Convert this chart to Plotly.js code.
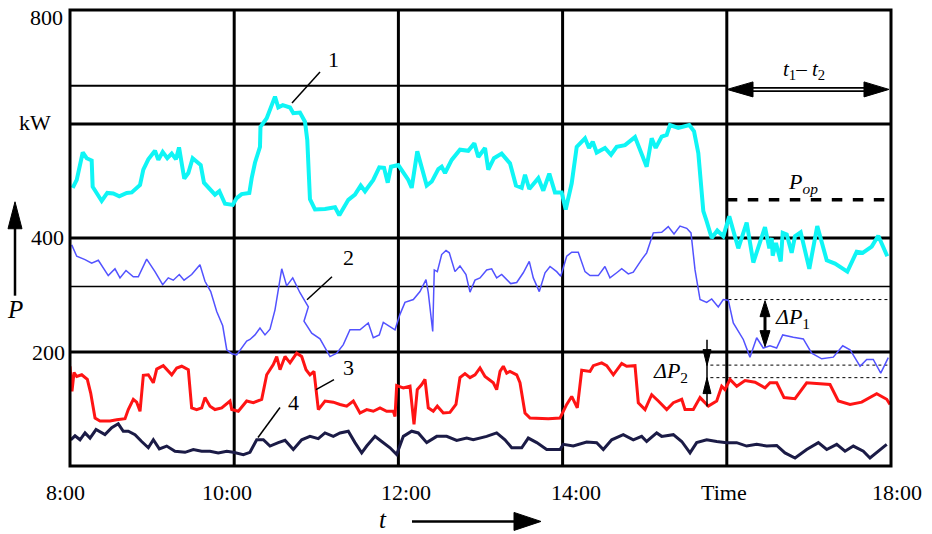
<!DOCTYPE html>
<html>
<head>
<meta charset="utf-8">
<script src="https://cdn.plot.ly/plotly-3.0.1.min.js"></script>
<style>html,body{margin:0;padding:0;background:#fff;}#chart{width:932px;height:534px;}</style>
</head>
<body>
<div id="chart"></div>
<script>
// ---- data (time in hours, power in kW) ----
const time1 = [8.033,8.082,8.155,8.203,8.264,8.276,8.386,8.454,8.527,8.600,
8.691,8.752,8.853,8.893,8.954,9.035,9.076,9.129,9.185,9.239,
9.291,9.328,9.392,9.441,9.494,9.592,9.632,9.766,9.819,9.888,
9.982,10.030,10.091,10.184,10.213,10.253,10.314,10.32,10.396,10.448,
10.497,10.537,10.591,10.680,10.720,10.801,10.862,10.890,10.923,10.984,
11.106,11.228,11.280,11.390,11.471,11.541,11.593,11.694,11.767,11.825,
11.870,11.910,11.999,12.121,12.162,12.230,12.345,12.406,12.486,12.527,
12.568,12.649,12.750,12.851,12.925,12.973,13.055,13.095,13.164,13.258,
13.359,13.432,13.502,13.542,13.594,13.704,13.765,13.838,13.907,13.989,
14.038,14.111,14.172,14.273,14.322,14.367,14.415,14.516,14.590,14.659,
14.760,14.882,15.024,15.085,15.134,15.207,15.268,15.308,15.409,15.543,
15.601,15.653,15.694,15.714,15.755,15.816,15.884,15.957,
16.030,16.140,16.242,16.323,16.465,16.518,16.547,16.559,16.599,16.657,
16.681,16.730,16.790,16.831,16.900,17.005,17.102,17.217,17.318,17.468,
17.582,17.655,17.765,17.845,17.955];
const power1 = [488,502,550,540,536,490,465,479,478,473,
479,480,493,520,538,553,537,551,540,548,
538,559,504,514,540,528,497,476,482,460,
458,470,477,479,505,532,560,595,610,628,
648,629,633,629,619,620,604,572,468,450,
451,454,440,467,476,492,482,502,524,523,
497,525,528,502,488,552,492,499,521,525,
514,537,555,553,566,542,558,520,540,548,
531,492,488,511,486,505,483,513,480,480,
450,496,560,575,558,569,550,558,546,560,
563,577,525,575,558,578,581,598,593,598,
587,549,485,447,429,400,413,403,
438,382,427,357,419,382,400,369,391,359,
409,406,374,403,410,346,421,361,355,341,
376,374,385,404,368];

const time2 = [8.021,8.082,8.183,8.264,8.345,8.466,8.548,8.609,8.682,8.771,
8.832,8.934,9.035,9.129,9.197,9.258,9.331,9.389,9.482,9.583,
9.644,9.714,9.787,9.860,9.909,9.970,10.030,10.152,10.192,10.253,
10.314,10.375,10.436,10.497,10.579,10.639,10.713,10.801,10.903,10.850,
10.944,11.045,11.167,11.249,11.329,11.410,11.532,11.633,11.694,11.767,
11.816,11.877,11.959,12.019,12.080,12.182,12.263,12.336,12.364,12.418,
12.437,12.474,12.527,12.580,12.620,12.689,12.750,12.823,12.872,12.933,
12.994,13.075,13.136,13.197,13.258,13.368,13.441,13.521,13.594,13.643,
13.716,13.786,13.847,13.928,13.977,14.050,14.111,14.191,14.273,14.334,
14.435,14.516,14.577,14.659,14.720,14.800,14.861,14.963,15.024,15.105,
15.207,15.287,15.357,15.430,15.512,15.564,15.613,15.674,15.755,15.816,
15.896,15.957,16.018,16.079,16.201,16.282,16.364,16.444,16.526,16.607,
16.681,16.810,16.932,17.034,17.156,17.297,17.412,17.501,17.623,17.704,
17.784,17.875,17.967];
const power2 = [388,368,362,356,361,334,346,330,343,332,
332,363,341,318,330,326,336,326,336,353,
324,306,271,246,204,197,195,219,222,230,
242,230,240,274,346,316,330,304,279,254,
233,223,192,198,213,239,239,251,225,230,
252,246,239,266,287,292,306,327,304,236,
344,341,371,378,374,341,351,336,305,326,
330,344,346,330,336,320,322,339,359,330,
306,339,350,341,333,368,375,375,341,334,
334,350,330,339,346,337,340,362,374,409,
410,420,407,421,417,409,344,292,287,293,
279,292,291,251,222,191,225,207,211,207,
230,226,223,198,188,191,211,204,175,187,
187,163,190];

const time3 = [8.000,8.024,8.049,8.082,8.143,8.211,8.252,8.305,8.365,8.487,
8.569,8.670,8.710,8.771,8.812,8.853,8.893,8.954,9.015,9.056,
9.136,9.239,9.300,9.361,9.441,9.482,9.543,9.604,9.644,9.705,
9.766,9.848,9.949,9.970,10.050,10.152,10.233,10.335,10.396,10.476,
10.518,10.558,10.619,10.680,10.761,10.822,10.875,10.923,10.972,11.025,
11.106,11.207,11.289,11.370,11.451,11.532,11.614,11.694,11.776,11.857,
11.938,11.959,11.979,12.060,12.141,12.190,12.230,12.284,12.324,12.364,
12.425,12.474,12.547,12.628,12.701,12.750,12.811,12.872,12.933,12.994,
13.055,13.156,13.197,13.238,13.278,13.319,13.359,13.441,13.481,13.542,
13.603,13.725,13.826,13.968,14.050,14.111,14.179,14.233,14.334,14.374,
14.476,14.537,14.618,14.720,14.780,14.882,14.922,15.004,15.085,15.166,
15.268,15.349,15.451,15.491,15.592,15.674,15.775,15.877,15.938,15.978,
16.039,16.121,16.222,16.344,16.466,16.526,16.608,16.697,16.831,16.973,
17.257,17.358,17.501,17.643,17.826,17.948,17.988];
const power3 = [175,131,164,157,160,152,128,84,79,79,
81,83,99,117,112,96,159,160,146,170,
176,160,172,175,169,102,99,102,120,105,
99,102,114,99,96,114,111,117,160,178,
192,169,192,181,198,192,169,160,166,99,
114,112,108,105,114,93,99,96,102,96,
96,87,141,137,140,73,134,143,152,102,
96,105,93,94,108,155,162,155,160,172,
157,146,134,166,175,163,166,160,146,93,
84,83,83,84,108,122,102,168,166,176,
181,176,160,180,175,176,111,99,125,114,
99,111,117,99,99,120,105,114,140,134,
152,140,150,147,137,146,146,120,118,146,
143,114,108,112,127,117,108];

const time4 = [8.009,8.061,8.122,8.183,8.244,8.317,8.426,8.508,8.588,8.649,
8.710,8.792,8.873,8.954,9.015,9.088,9.178,9.279,9.401,9.502,
9.604,9.705,9.806,9.909,9.989,10.111,10.192,10.274,10.355,10.436,
10.537,10.619,10.720,10.822,10.923,11.024,11.106,11.207,11.289,11.390,
11.471,11.553,11.614,11.715,11.797,11.898,11.979,12.060,12.162,12.242,
12.345,12.467,12.588,12.710,12.832,12.912,13.075,13.197,13.298,13.380,
13.502,13.582,13.685,13.806,13.968,14.008,14.130,14.293,14.415,14.496,
14.598,14.739,14.861,14.963,15.024,15.146,15.207,15.349,15.451,15.552,
15.633,15.755,15.877,15.999,16.120,16.242,16.364,16.486,16.608,16.709,
16.831,16.973,17.115,17.217,17.339,17.440,17.541,17.663,17.744,17.845,
17.948];
const power4 = [46,53,46,58,49,64,55,67,74,61,
61,55,43,32,46,30,35,26,24,29,
26,26,23,26,24,20,24,46,46,35,
41,45,29,46,52,48,58,52,58,61,
41,23,35,52,43,32,20,52,61,58,
41,52,52,45,49,46,52,58,46,32,
32,49,41,29,29,38,35,42,41,29,
46,55,46,52,43,58,52,55,43,23,
41,46,43,41,41,35,38,35,36,23,
14,29,41,29,38,26,35,26,14,26,
38];

const hourTicks = [8,10,12,14,16,18];
const hourLabels = ['8:00','10:00','12:00','14:00','Time','18:00'];
const powerTicks = [200,400,600,800];
const powerLabels = ['200','400','kW','800'];
const popLevel = 467;
const thinLevels = [667,315];
const dP1Level = 292;
const dP2Levels = [177,155];

// ---- layout helpers (pixel -> paper) ----
const L=70, R=891, T=10, B=466.5;
const PX = p => (p-L)/(R-L);
const PY = p => (B-p)/(B-T);
const FONT = 'Liberation Serif';

const shapes = [];
function dline(x0,y0,x1,y1,w,dash,color){
  shapes.push({type:'line',xref:'x',yref:'y',x0,y0,x1,y1,layer:'below',
    line:{color:color||'#000',width:w,dash:dash||'solid'}});
}
function pline(x0,y0,x1,y1,w,color,layer){
  shapes.push({type:'line',xref:'paper',yref:'paper',x0:PX(x0),y0:PY(y0),x1:PX(x1),y1:PY(y1),
    layer:layer||'above',line:{color:color||'#000',width:w}});
}
function tri(pts){
  let d = pts.map((p,i)=>(i?'L':'M')+PX(p[0])+','+PY(p[1])).join(' ')+' Z';
  shapes.push({type:'path',xref:'paper',yref:'paper',path:d,fillcolor:'#000',line:{color:'#000',width:1},layer:'above'});
}

// grid
powerTicks.slice(0,3).forEach(v=>dline(8,v,18,v,3));
dline(8,thinLevels[0],16,thinLevels[0],2);
dline(8,thinLevels[1],18,thinLevels[1],1.5);
hourTicks.slice(1,5).forEach(h=>dline(h,0,h,800,3));
// frame
shapes.push({type:'rect',xref:'paper',yref:'paper',x0:0,y0:0,x1:1,y1:1,layer:'above',line:{color:'#000',width:3}});
// Pop dashed line
dline(16,popLevel,18,popLevel,3.5,'dash');
// dotted reference lines
dline(16.02,dP1Level,17.97,dP1Level,1,'dot');
dline(15.8,dP2Levels[0],17.97,dP2Levels[0],1,'dot');
dline(15.8,dP2Levels[1],17.97,dP2Levels[1],1,'dot');

// P arrow (left)
pline(15,296,15,226,2.5,'#000','above');
tri([[15,202],[8,229],[22,229]]);
// t arrow (bottom)
pline(412,522,518,522,2.5,'#000','above');
tri([[541,522],[514,513],[514,531]]);
// t1 - t2 double arrow
pline(750,89.5,868,89.5,5);
pline(750,89.5,868,89.5,1.5,'#fff');
tri([[727,89.5],[753,82],[753,97]]);
tri([[889,89.5],[864,82],[864,97]]);
// dP1 double arrow
pline(765,314,765,334,3);
tri([[765,301],[760,317],[770,317]]);
tri([[765,347],[760,331],[770,331]]);
// dP2 arrows
pline(707,340,707,407,1.5);
tri([[707,366],[703,350],[711,350]]);
tri([[707,378],[703,394],[711,394]]);
// leader lines
pline(320,72,292,103,1.5);
pline(332,277,307,300,1.5);
pline(334,380,316,390,1.5);
pline(280,408,258,438,1.5);

const annotations = [];
function ann(text,px,py,size,xanchor){
  annotations.push({xref:'paper',yref:'paper',x:PX(px),y:PY(py),text,showarrow:false,
    xanchor:xanchor||'center',yanchor:'middle',font:{family:FONT,size:size||22,color:'#000'}});
}
// y tick labels
const yLabelPos = [[67,353],[66,238],[53,123],[65,18]];
powerLabels.forEach((s,i)=>ann(s,yLabelPos[i][0],yLabelPos[i][1],22,'right'));
// x tick labels
const xLabelPos = [65,227,406,576,724,897];
hourLabels.forEach((s,i)=>ann(s,xLabelPos[i],493,22,'center'));
ann('<i>P</i>',15,310,25);
ann('<i>t</i>',383,520,25);
ann('1',333,60,22);
ann('2',348,258,22);
ann('3',348,368,22);
ann('4',293,403,22);
ann('<i>t</i><sub>1</sub>\u2013 <i>t</i><sub>2</sub>',804,70,21);
ann('<i>P</i><sub><i>op</i></sub>',803,183,22);
ann('<i>ΔP</i><sub>1</sub>',792,318,22);
ann('<i>ΔP</i><sub>2</sub>',670,372,22);

const traces = [
  {x:time4,y:power4,mode:'lines',line:{color:'#1b1b46',width:3},hoverinfo:'skip'},
  {x:time3,y:power3,mode:'lines',line:{color:'#ff1414',width:3},hoverinfo:'skip'},
  {x:time2,y:power2,mode:'lines',line:{color:'#5252ff',width:1.5},hoverinfo:'skip'},
  {x:time1,y:power1,mode:'lines',line:{color:'#0ff5f5',width:4},hoverinfo:'skip'}
];

const layout = {
  width:932,height:534,
  font:{family:FONT,size:22,color:'#000'},
  margin:{l:L,r:932-R,t:T,b:534-B,pad:0},
  paper_bgcolor:'#fff',plot_bgcolor:'#fff',
  showlegend:false,
  xaxis:{range:[8,18],showgrid:false,zeroline:false,showline:false,showticklabels:false,ticks:'',tickvals:hourTicks,fixedrange:true},
  yaxis:{range:[0,800],showgrid:false,zeroline:false,showline:false,showticklabels:false,ticks:'',tickvals:powerTicks,fixedrange:true},
  shapes,annotations,hovermode:false
};
Plotly.newPlot('chart',traces,layout,{displayModeBar:false,staticPlot:true});
</script>
</body>
</html>
